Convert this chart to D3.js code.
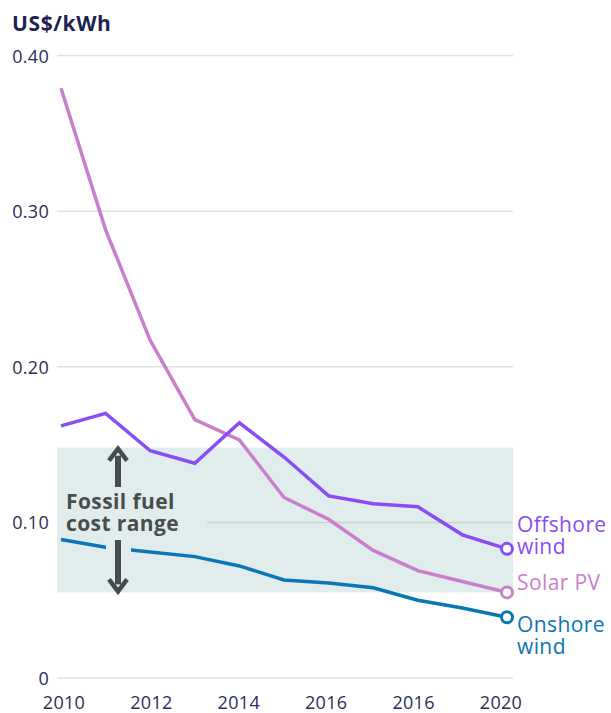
<!DOCTYPE html>
<html><head><meta charset="utf-8">
<script src="https://cdn.jsdelivr.net/npm/d3@7"></script>
<style>
body{margin:0;background:#fff;}
text{font-family:"Open Sans","Noto Sans",sans-serif;}
</style></head>
<body><svg id="c" width="611" height="713"></svg>
<script>
const years = [2010,2011,2012,2013,2014,2015,2016,2017,2018,2019,2020];
const solarPV   = [0.379,0.288,0.217,0.166,0.153,0.116,0.102,0.082,0.069,0.062,0.055];
const offshore  = [0.162,0.170,0.146,0.138,0.164,0.142,0.117,0.112,0.110,0.092,0.083];
const onshore   = [0.089,0.084,0.081,0.078,0.072,0.063,0.061,0.058,0.050,0.045,0.039];
const yTicks = [0,0.10,0.20,0.30,0.40];
const yTickLabels = ["0","0.10","0.20","0.30","0.40"];
const xTickLabels = ["2010","2012","2014","2016","2016","2020"];
const fossilRange = [0.055,0.148];

const svg = d3.select("#c");
const x = d3.scaleLinear().domain([2010,2020]).range([61,507]);
const xl = d3.scalePoint().domain(d3.range(xTickLabels.length)).range([64,501]);
const y = d3.scaleLinear().domain([0,0.4]).range([678,55.5]);
const gx0 = 57, gx1 = 513;
const bandCol = "#e1eded";

svg.append("rect").attr("x",gx0).attr("width",gx1-gx0)
  .attr("y",y(fossilRange[1])).attr("height",y(fossilRange[0])-y(fossilRange[1]))
  .attr("fill",bandCol);

svg.selectAll("line.grid").data(yTicks).join("line")
  .attr("x1",gx0).attr("x2",gx1).attr("y1",d=>y(d)).attr("y2",d=>y(d))
  .attr("stroke",d=>d===0.10?"#c9d2d3":"#dde1e3").attr("stroke-width",1.5);

svg.selectAll("text.yt").data(yTicks).join("text")
  .attr("x",49).attr("y",d=>y(d)).attr("text-anchor","end").attr("dominant-baseline","central")
  .attr("fill","#2b2d5a").attr("font-size",18).attr("letter-spacing",0.3).text((d,i)=>yTickLabels[i]);
svg.selectAll("text.xt").data(xTickLabels).join("text")
  .attr("x",(d,i)=>xl(i)).attr("y",709).attr("text-anchor","middle")
  .attr("fill","#2b2d5a").attr("font-size",18).attr("letter-spacing",0.3).text(d=>d);
svg.append("text").attr("x",12).attr("y",31).attr("fill","#1f2250")
  .attr("font-size",21).attr("font-weight",700).attr("letter-spacing",0.6).text("US$/kWh");

svg.append("rect").attr("x",gx0).attr("y",y(0.10)-6).attr("width",150).attr("height",12).attr("fill",bandCol);

const line = d3.line().x((d,i)=>x(years[i])).y(d=>y(d));
const series = [
  {name:["Solar PV"], vals:solarPV, col:"#c97fcc"},
  {name:["Offshore","wind"], vals:offshore, col:"#8a4cf5"},
  {name:["Onshore","wind"], vals:onshore, col:"#0b76b4"}
];
const order = [series[2], series[0], series[1]];
order.forEach(s=>{
  svg.append("path").datum(s.vals).attr("d",line).attr("fill","none")
    .attr("stroke",s.col).attr("stroke-width",3.5).attr("stroke-linejoin","miter");
  if(s===series[2]){
    svg.append("rect").attr("x",106).attr("y",538).attr("width",25).attr("height",54).attr("fill",bandCol);
  }
});

const ax = 118, ac = "#474b4b";
const yTop = y(fossilRange[1]), yBot = y(fossilRange[0]);
svg.append("line").attr("x1",ax).attr("x2",ax).attr("y1",yTop+8).attr("y2",487).attr("stroke",ac).attr("stroke-width",6);
svg.append("path").attr("d",`M${ax-9},${yTop+13} L${ax},${yTop+1} L${ax+9},${yTop+13}`).attr("fill","none").attr("stroke",ac).attr("stroke-width",4.5).attr("stroke-linejoin","miter");
svg.append("line").attr("x1",ax).attr("x2",ax).attr("y1",540).attr("y2",yBot-8).attr("stroke",ac).attr("stroke-width",6);
svg.append("path").attr("d",`M${ax-9},${yBot-13} L${ax},${yBot-1} L${ax+9},${yBot-13}`).attr("fill","none").attr("stroke",ac).attr("stroke-width",4.5).attr("stroke-linejoin","miter");

const ft = svg.append("text").attr("x",66).attr("y",509).attr("fill","#4a4d4d").attr("font-size",21).attr("font-weight",700).attr("letter-spacing",0.4);
ft.append("tspan").attr("x",66).text("Fossil fuel");
ft.append("tspan").attr("x",66).attr("dy",22).text("cost range");

const labelY = {"Solar PV":590, "Offshore":532, "Onshore":632};
series.forEach(s=>{
  const v = s.vals[s.vals.length-1];
  svg.append("circle").attr("cx",x(2020)).attr("cy",y(v)).attr("r",5.5)
    .attr("fill","#fff").attr("stroke",s.col).attr("stroke-width",3);
  const t = svg.append("text").attr("x",517).attr("y",labelY[s.name[0]]).attr("fill",s.col)
      .attr("font-size",21).attr("font-weight",500).attr("letter-spacing",0.4);
  s.name.forEach((n,i)=>{
    t.append("tspan").attr("x",517).attr("dy",i?22:0).text(n);
  });
});
</script></body></html>
